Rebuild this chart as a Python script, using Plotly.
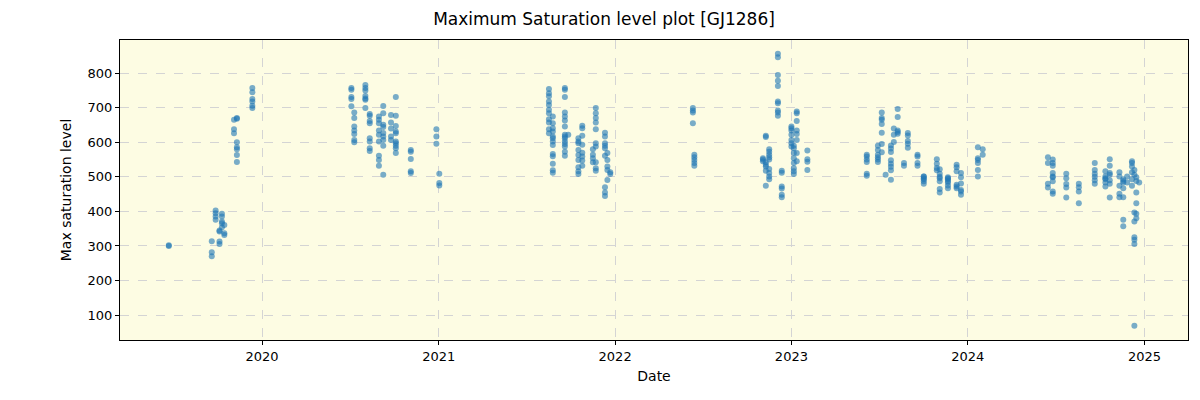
import pandas as pd
import plotly.graph_objects as go

# Fechas de observación (una por columna de puntos) y niveles máximos
obs_dates = [
    "2019-06-22", "2019-09-19", "2019-09-27", "2019-10-05", "2019-10-10", "2019-10-15",
    "2019-11-04", "2019-11-10", "2019-12-12",
    "2020-07-04", "2020-07-10", "2020-08-02", "2020-08-11", "2020-08-30", "2020-09-08",
    "2020-09-24", "2020-10-04", "2020-11-04", "2020-12-27", "2021-01-02",
    "2021-08-17", "2021-08-25", "2021-09-19", "2021-09-26", "2021-10-17", "2021-10-25",
    "2021-11-16", "2021-11-22", "2021-12-11", "2021-12-16", "2021-12-22",
    "2022-06-11", "2022-06-14",
    "2022-11-03", "2022-11-09", "2022-11-16", "2022-12-04", "2022-12-12",
    "2023-01-01", "2023-01-06", "2023-01-12", "2023-02-03",
    "2023-06-06", "2023-06-29", "2023-07-07", "2023-07-15", "2023-07-26", "2023-08-01",
    "2023-08-09", "2023-08-22", "2023-08-30", "2023-09-19", "2023-10-02", "2023-10-29",
    "2023-11-04", "2023-11-21", "2023-12-09", "2023-12-18", "2024-01-22", "2024-02-01",
    "2024-06-15", "2024-06-25", "2024-07-23", "2024-08-18", "2024-09-20", "2024-10-12",
    "2024-10-21", "2024-11-10", "2024-11-18", "2024-11-26", "2024-12-06", "2024-12-11",
    "2024-12-15", "2024-12-21",
]

obs_values = [
    [300, 302], [270, 282, 314], [403, 395, 385, 376], [313, 306, 345, 342],
    [393, 385, 371, 366, 354], [361, 337, 332],
    [638, 626, 665], [668, 670, 600, 586, 580, 563, 543], [757, 745, 725, 718, 706, 699],
    [757, 752, 731, 725, 704], [686, 670, 646, 634, 624, 607, 600],
    [766, 757, 750, 734, 727, 723, 699], [682, 677, 662, 655, 612, 602, 583, 575],
    [675, 665, 655, 634, 622, 602, 561, 549, 532], [705, 684, 644, 617, 590, 506, 651, 627, 607],
    [679, 657, 640, 617, 607], [731, 677, 647, 631, 626, 597, 590, 583, 569, 602],
    [578, 573, 552, 516, 511], [638, 617, 596], [509, 482, 475],
    [754, 742, 733, 718, 708, 694, 684, 667, 657, 638, 626],
    [675, 655, 631, 617, 612, 602, 592, 566, 560, 538, 519, 512, 641],
    [757, 752, 731, 686, 675, 663, 646, 622, 612, 602, 588, 573, 561, 617, 595], [622],
    [612, 602, 597, 578, 563, 549, 528, 516, 508], [648, 641, 619, 593, 570, 559, 547, 532],
    [580, 564, 554, 542], [699, 684, 670, 657, 638, 597, 588, 542, 525, 518],
    [628, 617, 597, 590, 583, 561, 470, 455, 445], [569, 549, 530, 520, 491], [513, 508],
    [699, 692, 686, 655], [564, 557, 549, 540, 532],
    [554, 545, 550], [619, 615, 542, 530, 518, 535, 474],
    [580, 573, 564, 523, 511, 501, 493, 550, 557],
    [856, 846, 795, 778, 763, 718, 713, 692, 686, 677], [518, 512, 472, 466, 448, 441],
    [641, 634, 646, 622, 607, 597, 588], [590, 583, 569, 554, 540, 525, 516, 508],
    [689, 684, 662, 634, 624, 607, 569, 545], [576, 551, 544, 520],
    [564, 559, 550, 543, 509, 503], [590, 578, 564, 557, 550, 543],
    [686, 670, 665, 653, 628, 595, 571], [506], [591, 582, 572, 548, 538, 529, 519, 492],
    [640, 622, 601], [696, 673, 634, 625, 630], [540, 532], [627, 620, 604, 596, 584],
    [564, 559, 540, 532], [501, 501, 496, 487, 480, 493], [551, 538, 526, 519],
    [522, 509, 500, 487, 465, 455, 496], [499, 496, 493, 484, 475, 467, 488],
    [535, 528, 516, 477, 472, 467], [511, 499, 458, 448, 481, 462],
    [586, 554, 549, 540, 520, 501], [580, 564],
    [557, 540, 480, 469], [550, 532, 511, 501, 499, 487, 458, 451, 540],
    [509, 496, 479, 469, 440], [480, 470, 458, 424], [540, 520, 509, 500, 490, 480],
    [516, 501, 493, 484, 472, 496], [551, 532, 511, 506, 480, 440, 490],
    [513, 501, 474, 451, 441], [493, 484, 488, 467, 441, 376, 357], [501, 484],
    [545, 540, 530, 513, 493, 474], [520, 506, 397, 371, 325, 318, 306, 69],
    [499, 488, 455, 424, 393, 380], [484],
]

year_ticks = ["2020", "2021", "2022", "2023", "2024", "2025"]

# Tabla larga: una fila por punto
rows = [(d, v) for d, vals in zip(obs_dates, obs_values) for v in vals]
df = pd.DataFrame(rows, columns=["fecha", "nivel"])
df["fecha"] = pd.to_datetime(df["fecha"])

fig = go.Figure()
fig.add_trace(go.Scatter(
    x=df["fecha"],
    y=df["nivel"],
    mode="markers",
    marker=dict(color="#1f77b4", size=6, opacity=0.6, line=dict(width=0)),
    showlegend=False,
))

axis_common = dict(
    showline=True, linecolor="black", linewidth=1, mirror=True,
    ticks="outside", ticklen=4, tickcolor="black",
    showgrid=True, gridcolor="#d4d4d4", griddash="dash", gridwidth=1,
    zeroline=False, automargin=False,
    tickfont=dict(family="DejaVu Sans", size=13, color="black"),
)

# la página deja 8px de margen en el body, por eso 1192x392
fig.update_layout(
    width=1192, height=392,
    margin=dict(l=112, r=12, t=32, b=60, autoexpand=False),
    paper_bgcolor="white",
    plot_bgcolor="#fdfce3",
    font=dict(family="DejaVu Sans", color="black"),
    title=dict(text="Maximum Saturation level plot [GJ1286]", x=0.5, xanchor="center",
               y=0.987, yanchor="top", font=dict(size=17)),
    xaxis=dict(
        axis_common,
        title=dict(text="Date", font=dict(size=14), standoff=8),
        range=["2019-03-13", "2025-04-01"],
        tickvals=[pd.Timestamp(y + "-01-01") for y in year_ticks],
        ticktext=year_ticks,
    ),
    yaxis=dict(
        axis_common,
        title=dict(text="Max saturation level", font=dict(size=14), standoff=12),
        range=[28, 896],
        tickvals=[100, 200, 300, 400, 500, 600, 700, 800],
    ),
)

fig.write_html("out.html")
